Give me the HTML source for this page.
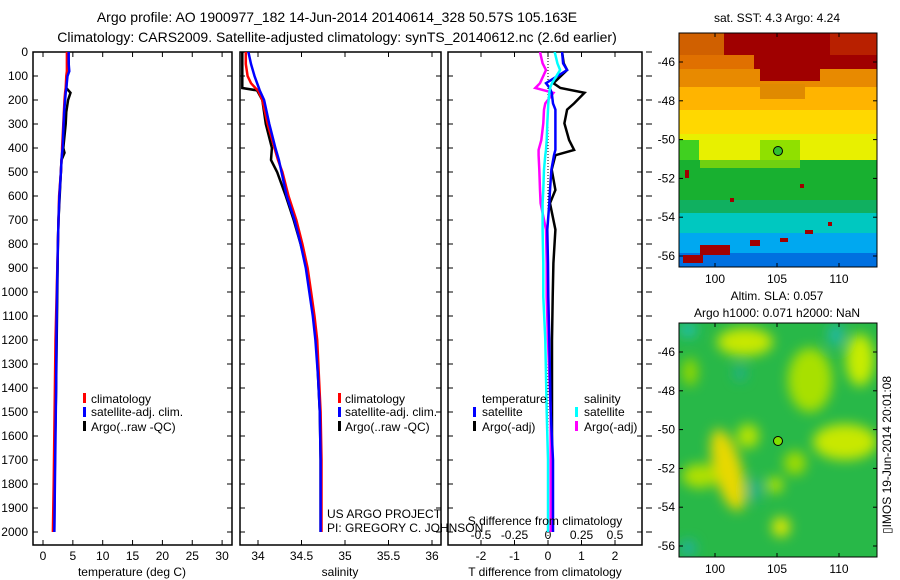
<!DOCTYPE html>
<html><head><meta charset="utf-8">
<style>
html,body{margin:0;padding:0;background:#fff;}
svg{display:block;font-family:"Liberation Sans",Arial,sans-serif;}
text{fill:#000;}
</style></head>
<body>
<svg id="chart" width="900" height="580" viewBox="0 0 900 580" xmlns="http://www.w3.org/2000/svg">
<defs>
<filter id="blur6" x="-30%" y="-30%" width="160%" height="160%"><feGaussianBlur stdDeviation="6"/></filter>
<clipPath id="clipM1"><rect x="679" y="33" width="198" height="234"/></clipPath>
<clipPath id="clipM2"><rect x="679" y="323" width="198" height="234"/></clipPath>
<clipPath id="clipP1"><rect x="33" y="52" width="199" height="493"/></clipPath>
<clipPath id="clipP2"><rect x="240" y="52" width="201" height="493"/></clipPath>
<clipPath id="clipP3"><rect x="448" y="52" width="194" height="493"/></clipPath>
</defs>

<text x="337" y="22" font-size="14" text-anchor="middle">Argo profile: AO 1900977_182 14-Jun-2014 20140614_328 50.57S 105.163E</text>
<text x="337" y="42" font-size="14" text-anchor="middle">Climatology: CARS2009. Satellite-adjusted climatology: synTS_20140612.nc (2.6d earlier)</text>

<g id="axes"></g>
<g id="series"></g>

<g font-size="12">
<rect x="83" y="393" width="3" height="10" fill="#f00"/><text x="91" y="403">climatology</text>
<rect x="83" y="407" width="3" height="10" fill="#00f"/><text x="91" y="416">satellite-adj. clim.</text>
<rect x="83" y="421" width="3" height="10" fill="#000"/><text x="91" y="431">Argo(..raw -QC)</text>
</g>
<g font-size="12">
<rect x="338" y="393" width="3" height="10" fill="#f00"/><text x="345" y="403">climatology</text>
<rect x="338" y="407" width="3" height="10" fill="#00f"/><text x="345" y="416">satellite-adj. clim.</text>
<rect x="338" y="421" width="3" height="10" fill="#000"/><text x="345" y="431">Argo(..raw -QC)</text>
</g>
<g font-size="12">
<text x="482" y="403">temperature</text>
<rect x="473" y="407" width="3" height="10" fill="#00f"/><text x="482" y="416">satellite</text>
<rect x="473" y="421" width="3" height="10" fill="#000"/><text x="482" y="431">Argo(-adj)</text>
<text x="584" y="403">salinity</text>
<rect x="575" y="407" width="3" height="10" fill="#0ff"/><text x="584" y="416">satellite</text>
<rect x="575" y="421" width="3" height="10" fill="#f0f"/><text x="584" y="431">Argo(-adj)</text>
</g>
<text x="327" y="518" font-size="12">US ARGO PROJECT</text>
<text x="327" y="532" font-size="12">PI: GREGORY C. JOHNSON</text>
<text x="545" y="525" font-size="12" text-anchor="middle">S difference from climatology</text>

<text x="777" y="22" font-size="12" text-anchor="middle">sat. SST: 4.3 Argo: 4.24</text>
<g clip-path="url(#clipM1)">
<rect x="679" y="33" width="198" height="36" fill="#a00000"/>
<rect x="679" y="33" width="45" height="40" fill="#d06000"/>
<rect x="679" y="55" width="75" height="20" fill="#e07000"/>
<rect x="830" y="33" width="47" height="22" fill="#b82000"/>
<rect x="679" y="69" width="198" height="18" fill="#e88a00"/>
<rect x="760" y="69" width="60" height="12" fill="#a00000"/>
<rect x="679" y="87" width="198" height="23" fill="#ffb400"/>
<rect x="760" y="84" width="45" height="15" fill="#e08a00"/>
<rect x="679" y="110" width="198" height="24" fill="#ffd800"/>
<rect x="679" y="134" width="198" height="26" fill="#e8f000"/>
<rect x="679" y="140" width="20" height="20" fill="#40d020"/>
<rect x="760" y="140" width="40" height="20" fill="#90e000"/>
<rect x="679" y="160" width="198" height="40" fill="#18b030"/>
<rect x="700" y="160" width="100" height="8" fill="#70d010"/>
<rect x="679" y="200" width="198" height="13" fill="#10b060"/>
<rect x="679" y="213" width="198" height="20" fill="#00c8c0"/>
<rect x="679" y="233" width="198" height="20" fill="#00a8f0"/>
<rect x="679" y="253" width="198" height="14" fill="#0070e0"/>
<rect x="700" y="245" width="30" height="10" fill="#a00000"/>
<rect x="683" y="255" width="20" height="8" fill="#a00000"/>
<rect x="750" y="240" width="10" height="6" fill="#a00000"/>
<rect x="780" y="238" width="8" height="4" fill="#a00000"/>
<rect x="805" y="230" width="8" height="4" fill="#a00000"/>
<rect x="800" y="184" width="4" height="4" fill="#a00000"/>
<rect x="685" y="170" width="4" height="8" fill="#a00000"/>
<rect x="730" y="198" width="4" height="4" fill="#a00000"/>
<rect x="828" y="222" width="4" height="4" fill="#a00000"/>
<circle cx="778" cy="151" r="4.5" fill="#30c030" stroke="#000" stroke-width="1"/>
</g>
<rect x="679" y="33" width="198" height="234" fill="none" stroke="#000" stroke-width="1"/>
<g id="map1axes"></g>

<text x="777" y="300" font-size="12" text-anchor="middle">Altim. SLA: 0.057</text>
<text x="777" y="317" font-size="12" text-anchor="middle">Argo h1000: 0.071 h2000: NaN</text>
<g clip-path="url(#clipM2)">
<rect x="679" y="323" width="198" height="234" fill="#28b848"/>
<g filter="url(#blur6)">
<ellipse cx="745" cy="342" rx="28" ry="14" fill="#c8e800"/>
<ellipse cx="860" cy="360" rx="14" ry="26" fill="#c8ec00"/>
<ellipse cx="810" cy="380" rx="22" ry="32" fill="#a8e000"/>
<ellipse cx="845" cy="442" rx="32" ry="18" fill="#c8e800"/>
<ellipse cx="728" cy="470" rx="14" ry="42" fill="#e8d800" transform="rotate(-15 728 470)"/>
<ellipse cx="700" cy="476" rx="18" ry="12" fill="#b0e000"/>
<ellipse cx="781" cy="527" rx="9" ry="10" fill="#e0e800"/>
<ellipse cx="748" cy="436" rx="11" ry="12" fill="#b8e400"/>
<ellipse cx="775" cy="485" rx="8" ry="8" fill="#b8e400"/>
<ellipse cx="795" cy="463" rx="11" ry="12" fill="#a0dc00"/>
<ellipse cx="690" cy="372" rx="8" ry="14" fill="#90d800"/>
<ellipse cx="836" cy="335" rx="8" ry="12" fill="#20b8a0"/>
<ellipse cx="688" cy="330" rx="9" ry="7" fill="#20c0b0"/>
<ellipse cx="740" cy="373" rx="6" ry="8" fill="#20b090"/>
<ellipse cx="755" cy="490" rx="6" ry="12" fill="#20b090"/>
<ellipse cx="688" cy="548" rx="8" ry="8" fill="#20b0a0"/>
</g>
<circle cx="778" cy="441" r="4.5" fill="#80e000" stroke="#000" stroke-width="1"/>
</g>
<rect x="679" y="323" width="198" height="234" fill="none" stroke="#000" stroke-width="1"/>
<g id="map2axes"></g>
<text transform="translate(891,455) rotate(-90)" font-size="12" text-anchor="middle">▯IMOS 19-Jun-2014 20:01:08</text>
</svg>

<script>
const depthT = [0, 50, 80, 100, 150, 170, 200, 250, 300, 400, 420, 450, 500, 600, 700, 800, 1000, 1200, 1400, 1600, 1800, 2000];
const tempClim = [4.0, 4.0, 4.0, 3.9, 3.8, 3.7, 3.6, 3.5, 3.4, 3.2, 3.2, 3.1, 3.0, 2.7, 2.6, 2.5, 2.3, 2.1, 2.0, 1.9, 1.8, 1.65];
const tempSat  = [4.3, 4.3, 4.4, 4.1, 3.9, 3.8, 3.7, 3.55, 3.45, 3.3, 3.2, 3.1, 3.0, 2.75, 2.6, 2.5, 2.35, 2.25, 2.2, 2.1, 2.0, 1.9];
const tempArgo = [4.2, 4.3, 4.3, 4.0, 3.9, 4.6, 4.2, 3.9, 3.8, 3.4, 3.6, 3.1, 3.0, 2.8, 2.6, 2.5, 2.4, 2.3, 2.2, 2.05, 1.95, 1.9];

const depthS = [0, 50, 100, 130, 150, 160, 200, 300, 400, 450, 500, 600, 700, 800, 900, 1000, 1100, 1200, 1350, 1500, 1700, 2000];
const salClim = [33.86, 33.86, 33.88, 33.92, 33.97, 34.0, 34.05, 34.11, 34.19, 34.23, 34.28, 34.35, 34.44, 34.51, 34.57, 34.61, 34.65, 34.68, 34.70, 34.72, 34.73, 34.73];
const salSat  = [33.89, 33.92, 33.96, 33.99, 34.01, 34.02, 34.07, 34.13, 34.20, 34.24, 34.27, 34.33, 34.42, 34.49, 34.55, 34.59, 34.63, 34.66, 34.69, 34.71, 34.72, 34.72];
const salArgo = [33.82, 33.82, 33.82, 33.82, 33.82, 33.99, 34.05, 34.09, 34.16, 34.15, 34.22, 34.32, 34.41, 34.49, 34.56, 34.60, 34.64, 34.67, 34.69, 34.71, 34.72, 34.72];

const depthD = [0, 47, 75, 130, 150, 170, 214, 240, 297, 367, 408, 430, 490, 575, 630, 740, 880, 1020, 1200, 1500, 1700, 2000];
const dTSat  = [0.42, 0.45, 0.57, -0.06, 0.05, 0.11, 0.15, 0.22, 0.22, 0.22, 0.22, 0.18, 0.10, 0.06, 0.04, -0.02, 0.0, 0.01, 0.04, 0.08, 0.15, 0.15];
const dTArgo = [0.42, 0.47, 0.57, 0.16, 0.37, 1.09, 0.78, 0.57, 0.49, 0.63, 0.78, 0.22, 0.11, 0.22, 0.06, 0.22, 0.16, 0.14, 0.12, 0.12, 0.12, 0.12];
const dSSat  = [0.05, 0.07, 0.09, 0.03, 0.015, 0.01, 0.002, 0.0, -0.005, -0.01, -0.015, -0.02, -0.03, -0.035, -0.04, -0.04, -0.035, -0.035, -0.02, -0.01, 0.0, 0.0];
const dSArgo = [-0.06, -0.04, -0.015, -0.06, -0.095, 0.04, -0.02, -0.03, -0.035, -0.05, -0.07, -0.07, -0.065, -0.06, -0.055, -0.015, -0.01, -0.01, 0.0, 0.02, 0.02, 0.02];

const depthTicks = [0,100,200,300,400,500,600,700,800,900,1000,1100,1200,1300,1400,1500,1600,1700,1800,1900,2000];
const tempTicks = [0,5,10,15,20,25,30];
const salTicks = [34,34.5,35,35.5,36];
const salTickLabels = ["34","34.5","35","35.5","36"];
const tdTicks = [-2,-1,0,1,2];
const sdTicks = [-0.5,-0.25,0,0.25,0.5];
const latTicks = [-46,-48,-50,-52,-54,-56];
const lonTicks = [100,105,110];

const yD = d => 52 + d * 0.24;
const xT = t => 43 + t * 5.97;
const xS = s => 258 + (s - 34) * 87;
const xTD = v => 548 + v * 33.5;
const xSD = v => 548 + v * 134;
const lonX = l => 777 + (l - 105) * 12.4;
const latY1 = a => 62 + (-46 - a) * 19.4;
const latY2 = a => 352 + (-46 - a) * 19.4;

const NS = "http://www.w3.org/2000/svg";
function mk(tag, parent, attrs) {
  const e = document.createElementNS(NS, tag);
  for (const k in attrs) e.setAttribute(k, attrs[k]);
  parent.appendChild(e);
  return e;
}
const axes = document.getElementById('axes');
const series = document.getElementById('series');

const panels = [[33,232,'temperature-panel'],[240,441,'salinity-panel'],[448,642,'difference-panel']];
panels.forEach(p => {
  const r = mk('rect', axes, {x:p[0], y:52, width:p[1]-p[0], height:493, fill:'none', stroke:'#000', 'stroke-width':1.5});
  
  
  depthTicks.forEach(d => {
    mk('line', axes, {x1:p[0], x2:p[0]+5, y1:yD(d), y2:yD(d), stroke:'#000'});
    mk('line', axes, {x1:p[1], x2:p[1]-5, y1:yD(d), y2:yD(d), stroke:'#000'});
  });
});
depthTicks.forEach(d => {
  const t = mk('text', axes, {x:28, y:yD(d)+4, 'font-size':12, 'text-anchor':'end'});
  t.textContent = d;
  
  
  mk('line', axes, {x1:646, x2:652, y1:yD(d), y2:yD(d), stroke:'#000'});
});
function xticks(vals, labels, fx, name) {
  vals.forEach((v, i) => {
    const x = fx(v);
    mk('line', axes, {x1:x, x2:x, y1:52, y2:57, stroke:'#000'});
    mk('line', axes, {x1:x, x2:x, y1:545, y2:540, stroke:'#000'});
    const t = mk('text', axes, {x:x, y:560, 'font-size':12, 'text-anchor':'middle'});
    t.textContent = labels[i];
    
    
  });
}
xticks(tempTicks, tempTicks.map(String), xT, 'temperature-tick-label');
xticks(salTicks, salTickLabels, xS, 'salinity-tick-label');
xticks(tdTicks, tdTicks.map(String), xTD, 't-diff-tick-label');
sdTicks.forEach(v => {
  const t = mk('text', axes, {x:xSD(v), y:539, 'font-size':12, 'text-anchor':'middle'});
  t.textContent = String(v);
  
  
});
[['temperature (deg C)',132,'temperature-axis-title'],['salinity',340,'salinity-axis-title'],['T difference from climatology',545,'t-diff-axis-title']].forEach(a => {
  const t = mk('text', axes, {x:a[1], y:576, 'font-size':12, 'text-anchor':'middle'});
  t.textContent = a[0];
  
  
});
mk('line', axes, {x1:548, x2:548, y1:52, y2:545, stroke:'#000', 'stroke-dasharray':'1,2'});

function line(depths, vals, fx, color, clip, name) {
  const pts = depths.map((d, i) => fx(vals[i]).toFixed(1) + ',' + yD(d).toFixed(1)).join(' ');
  const p = mk('polyline', series, {points:pts, fill:'none', stroke:color, 'stroke-width':2.5, 'clip-path':'url(#'+clip+')'});
  
  
}
line(depthT, tempArgo, xT, '#000', 'clipP1', 'temp-argo-line');
line(depthT, tempClim, xT, '#f00', 'clipP1', 'temp-climatology-line');
line(depthT, tempSat, xT, '#00f', 'clipP1', 'temp-satellite-line');
line(depthS, salArgo, xS, '#000', 'clipP2', 'salinity-argo-line');
line(depthS, salClim, xS, '#f00', 'clipP2', 'salinity-climatology-line');
line(depthS, salSat, xS, '#00f', 'clipP2', 'salinity-satellite-line');
line(depthD, dTArgo, xTD, '#000', 'clipP3', 't-diff-argo-line');
line(depthD, dSArgo, xSD, '#f0f', 'clipP3', 's-diff-argo-line');
line(depthD, dTSat, xTD, '#00f', 'clipP3', 't-diff-satellite-line');
line(depthD, dSSat, xSD, '#0ff', 'clipP3', 's-diff-satellite-line');

function mapAxes(gid, top, bottom, fy, nm) {
  const g = document.getElementById(gid);
  latTicks.forEach(a => {
    const y = fy(a);
    mk('line', g, {x1:679, x2:683, y1:y, y2:y, stroke:'#000'});
    mk('line', g, {x1:877, x2:873, y1:y, y2:y, stroke:'#000'});
    const t = mk('text', g, {x:675, y:y+4, 'font-size':12, 'text-anchor':'end'});
    t.textContent = String(a);
    
    
  });
  lonTicks.forEach(l => {
    const x = lonX(l);
    mk('line', g, {x1:x, x2:x, y1:top, y2:top+4, stroke:'#000'});
    mk('line', g, {x1:x, x2:x, y1:bottom, y2:bottom-4, stroke:'#000'});
    const t = mk('text', g, {x:x, y:bottom+16, 'font-size':12, 'text-anchor':'middle'});
    t.textContent = String(l);
    
    
  });
}
mapAxes('map1axes', 33, 267, latY1, 'sst-map');
mapAxes('map2axes', 323, 557, latY2, 'sla-map');
</script>
</body></html>
